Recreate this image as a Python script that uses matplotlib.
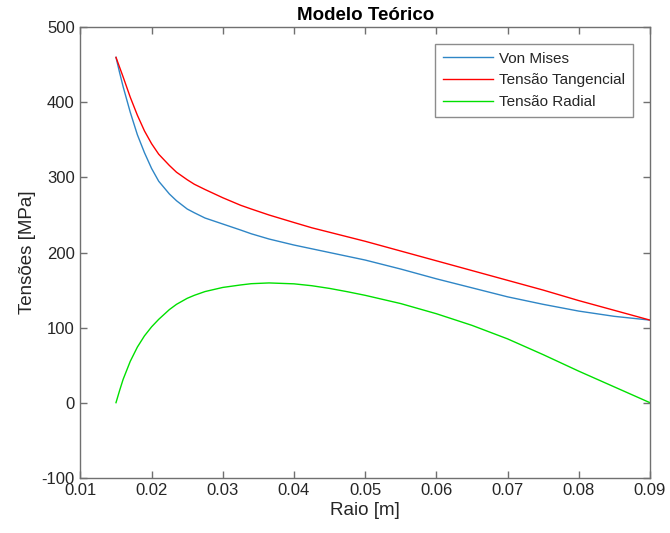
import matplotlib
matplotlib.use("Agg")
import matplotlib.pyplot as plt

# radius [m] and stresses [MPa]
raio = [0.015, 0.0155, 0.016, 0.017, 0.018, 0.019, 0.02, 0.021, 0.0225, 0.0235,
        0.025, 0.026, 0.0275, 0.03, 0.0325, 0.034, 0.0365, 0.04, 0.0425, 0.045,
        0.0475, 0.05, 0.055, 0.06, 0.065, 0.07, 0.075, 0.08, 0.085, 0.09]
von_mises = [460, 440, 421, 387, 357, 333, 312, 295, 278, 269,
             258, 253, 246, 238, 230, 225, 218, 210, 205, 200,
             195, 190, 178, 165, 153, 141, 131, 122, 115, 110]
tens_tang = [460, 447, 434, 407, 383, 362, 345, 331, 316, 307,
             297, 291, 284, 273, 263, 258, 250, 240, 233, 227,
             221, 215, 202, 189, 176, 163, 150, 136, 123, 110]
tens_rad = [0, 16, 31, 55, 74, 89, 101, 111, 124, 131,
            139, 143, 148, 153.5, 156.8, 158.5, 159.5, 158.3, 155.8, 152.2,
            147.8, 143, 132, 118.5, 103, 85, 64, 42, 21, 0]

xticks = [0.01, 0.02, 0.03, 0.04, 0.05, 0.06, 0.07, 0.08, 0.09]
yticks = [-100, 0, 100, 200, 300, 400, 500]

plt.rcParams['font.family'] = ['Liberation Sans', 'DejaVu Sans']
plt.rcParams['axes.unicode_minus'] = False

fig = plt.figure(figsize=(6.7, 5.33), dpi=100)
ax = fig.add_axes([0.120, 0.1037, 0.850, 0.845])

ax.plot(raio, von_mises, color='#2f86c6', lw=1.0, label='Von Mises')
ax.plot(raio, tens_tang, color='#ff0000', lw=1.0, label='Tensão Tangencial')
ax.plot(raio, tens_rad, color='#00e000', lw=1.0, label='Tensão Radial')

ax.set_xlim(0.01, 0.09)
ax.set_ylim(-100, 500)
ax.set_xticks(xticks)
ax.set_xticklabels([f"{t:.2f}" for t in xticks])
ax.set_yticks(yticks)

for s in ax.spines.values():
    s.set_color('#707070')
    s.set_linewidth(1.0)
ax.tick_params(direction='in', length=5, width=1.0, color='#707070',
               top=True, right=True, labelsize=12, labelcolor='#262626', pad=4)

ax.set_title('Modelo Teórico', fontsize=13.5, fontweight='bold', pad=5)
ax.set_xlabel('Raio [m]', fontsize=13.5, color='#262626', labelpad=3)
ax.set_ylabel('Tensões [MPa]', fontsize=13.5, color='#262626', labelpad=4)

leg = ax.legend(loc='upper right', bbox_to_anchor=(0.970, 0.963), fontsize=11,
                frameon=True, fancybox=False, handlelength=3.3, handletextpad=0.4,
                labelspacing=0.5, borderpad=0.5, borderaxespad=0)
leg.get_frame().set_edgecolor('#707070')
leg.get_frame().set_linewidth(1.0)
for t in leg.get_texts():
    t.set_color('#262626')

fig.savefig('out.png', dpi=100)
